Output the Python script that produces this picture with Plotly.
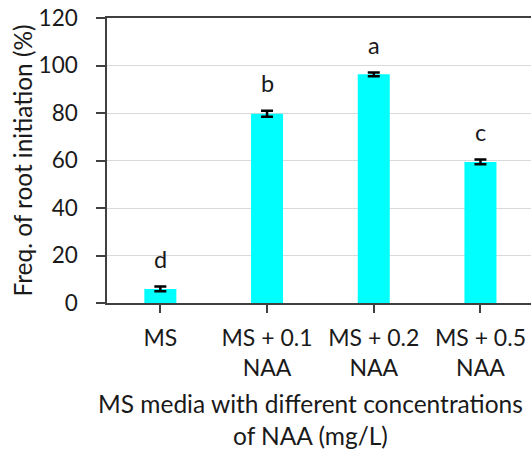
import plotly.graph_objects as go

categories = ["MS", "MS + 0.1<br>NAA", "MS + 0.2<br>NAA", "MS + 0.5<br>NAA"]
values = [5.9, 79.7, 96.3, 59.4]
errors = [1.0, 1.3, 0.8, 1.0]
letters = ["d", "b", "a", "c"]
y_ticks = [0, 20, 40, 60, 80, 100, 120]

FONT = "Lato, Carlito, sans-serif"
TXT = "#1a1a1a"
AX = "#404040"

fig = go.Figure()
fig.add_trace(go.Bar(
    x=list(range(len(categories))), y=values,
    marker=dict(color="#00FFFF", line=dict(width=0)),
    width=0.3,
    error_y=dict(type="data", array=errors, visible=True, color="#000000",
                 thickness=2.5, width=6),
))

for i, (v, e, l) in enumerate(zip(values, errors, letters)):
    fig.add_annotation(x=i, y=v + e + 5.0, text=l, showarrow=False,
                       yanchor="bottom", xanchor="center",
                       font=dict(family=FONT, size=23.5, color=TXT))

fig.add_annotation(xref="paper", yref="paper", x=(310 - 107) / 424, y=-0.295,
                   text="MS media with different concentrations<br>of NAA (mg/L)",
                   showarrow=False, xanchor="center", yanchor="top",
                   font=dict(family=FONT, size=24.5, color=TXT))
fig.add_annotation(xref="paper", yref="paper", x=-85 / 424, y=0.5,
                   text="Freq. of root initiation (%)", textangle=-90,
                   showarrow=False, xanchor="center", yanchor="middle",
                   font=dict(family=FONT, size=24.4, color=TXT))

fig.update_layout(
    width=531, height=452,
    margin=dict(l=107, r=0, t=18, b=149),
    plot_bgcolor="white", paper_bgcolor="white",
    showlegend=False,
    font=dict(family=FONT, size=22, color=TXT),
    xaxis=dict(
        tickmode="array", tickvals=list(range(len(categories))), ticktext=categories,
        range=[-0.5, -0.5 + 424 / 106.7],
        showline=True, linecolor=AX, linewidth=1.5, mirror=True,
        ticks="outside", ticklen=8, tickcolor=AX, tickwidth=1.5,
        ticklabelstandoff=6,
        showgrid=False, zeroline=False,
        tickfont=dict(family=FONT, size=23, color=TXT),
    ),
    yaxis=dict(
        range=[0, 120], tickvals=y_ticks,
        showline=True, linecolor=AX, linewidth=1.5,
        ticks="outside", ticklen=9, tickcolor=AX, tickwidth=1.5,
        ticklabelstandoff=14,
        showgrid=True, gridcolor="#d9d9d9", gridwidth=1,
        zeroline=False,
        tickfont=dict(family=FONT, size=22.5, color=TXT),
    ),
)

fig.write_html("out.html", config={"displayModeBar": False},
               post_script="document.body.style.margin='0';")
